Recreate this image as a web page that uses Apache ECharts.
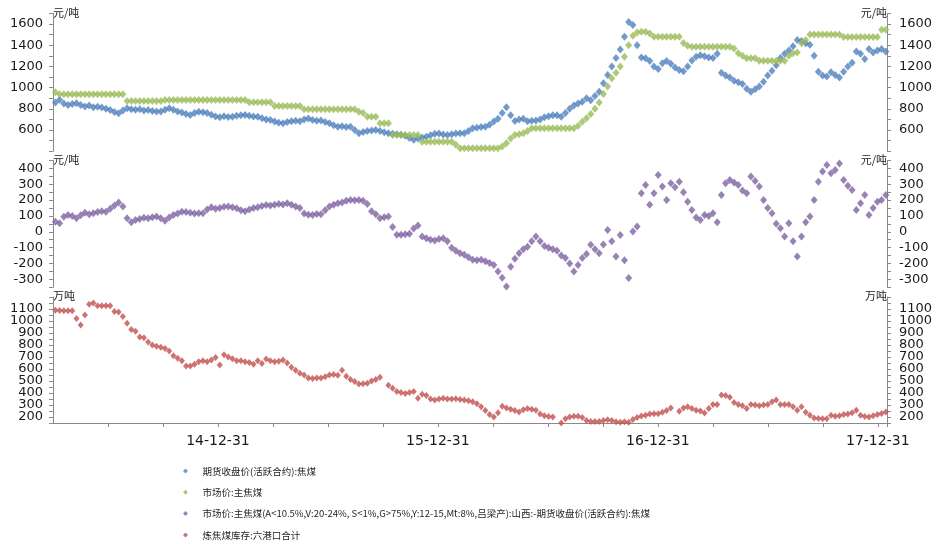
<!DOCTYPE html>
<html><head><meta charset="utf-8">
<script src="https://cdn.jsdelivr.net/npm/echarts@6/dist/echarts.min.js"></script>
<style>html,body{margin:0;padding:0;background:#fff}#c{width:936px;height:544px}</style>
</head><body><div id="c"></div>
<script>
const seriesNames = [
  '期货收盘价(活跃合约):焦煤',
  '市场价:主焦煤',
  '市场价:主焦煤(A<10.5%,V:20-24%, S<1%,G>75%,Y:12-15,Mt:8%,吕梁产):山西:-期货收盘价(活跃合约):焦煤',
  '炼焦煤库存:六港口合计'
];
const seriesColors = ['#4f81bd', '#9bbb59', '#8064a2', '#c0504d'];
const unitPrice = '元/吨';
const unitStock = '万吨';
const yearEndLabels = ['14-12-31', '15-12-31', '16-12-31', '17-12-31'];
const axisOrigin = '2014-03-31';
const axisEnd = '2018-01-14';
const firstWeek = '2014-04-04';

// weekly readings
const futures = [
  860,885,850,835,845,852,835,822,830,815,
  820,812,800,789,770,758,785,805,795,790,
  795,785,789,780,775,775,790,805,790,775,
  765,750,742,760,773,768,760,745,728,720,
  730,722,726,735,738,742,735,728,726,712,
  700,694,680,668,663,675,682,688,682,700,
  708,695,688,690,675,663,645,631,635,628,
  630,600,570,580,590,595,600,590,578,569,
  565,560,555,545,525,508,520,530,537,550,
  565,566,558,553,560,566,569,570,590,616,
  622,628,631,650,680,705,760,815,740,685,
  700,705,682,688,690,700,720,730,740,738,
  726,760,800,830,850,867,900,880,920,960,
  1040,1120,1200,1280,1360,1480,1620,1590,1400,1285,
  1276,1250,1200,1175,1229,1250,1225,1190,1166,1155,
  1200,1255,1290,1305,1295,1285,1280,1320,1140,1115,
  1095,1065,1050,1035,990,960,985,1010,1055,1115,
  1160,1210,1280,1320,1350,1390,1450,1440,1418,1405,
  1300,1150,1115,1105,1145,1120,1095,1150,1200,1235,
  1340,1320,1270,1365,1330,1350,1365,1340
];
const market = [
  955,937,937,937,937,937,937,937,937,937,
  937,937,937,937,937,937,937,874,874,874,
  874,874,874,874,874,874,883,883,883,883,
  883,883,883,883,883,883,883,883,883,883,
  883,883,883,883,883,883,861,861,861,861,
  861,861,826,826,826,826,826,826,826,795,
  795,795,795,795,795,795,795,795,795,795,
  795,795,773,760,726,726,726,663,663,663,
  553,553,553,553,553,553,553,490,490,490,
  490,490,490,490,490,460,427,427,427,427,
  427,427,427,427,427,427,445,474,520,553,
  560,569,590,616,616,616,616,616,616,616,
  616,616,616,616,640,679,710,750,800,860,
  940,1010,1088,1140,1200,1290,1400,1490,1520,1528,
  1528,1510,1480,1480,1480,1480,1480,1480,1480,1420,
  1395,1386,1386,1386,1386,1386,1386,1386,1386,1386,
  1386,1370,1323,1300,1276,1276,1276,1254,1254,1254,
  1254,1254,1254,1254,1300,1323,1330,1418,1450,1500,
  1500,1500,1500,1500,1500,1500,1500,1478,1478,1478,
  1478,1478,1478,1478,1478,1478,1545,1545
];
const spread = [
  64,54,95,106,100,85,105,120,110,117,
  125,130,127,145,165,185,159,85,60,75,
  80,88,85,92,96,85,70,90,106,115,
  127,125,120,115,117,117,140,155,145,150,
  158,160,155,148,135,130,140,150,155,162,
  169,165,170,175,172,180,170,160,150,115,
  108,106,112,110,135,159,170,180,185,195,
  201,198,201,195,175,130,110,85,92,96,
  30,-19,-19,-15,-12,20,40,-30,-40,-51,
  -55,-45,-40,-60,-100,-120,-135,-145,-160,-177,
  -180,-177,-185,-197,-210,-250,-290,-345,-220,-170,
  -135,-110,-95,-60,-30,-60,-90,-100,-110,-120,
  -150,-166,-200,-250,-210,-166,-140,-82,-110,-135,
  -80,12,-60,-156,-20,-180,-292,1,33,243,
  295,170,243,358,285,200,306,280,316,250,
  190,138,90,75,106,100,117,60,232,306,
  327,310,295,260,243,348,320,285,200,150,
  117,50,23,-30,54,-60,-156,-30,60,96,
  201,316,380,421,369,390,431,327,290,264,
  138,180,232,106,150,190,200,232
];
const stock = [
  1090,1088,1085,1085,1085,1020,966,1051,1140,1151,
  1128,1128,1128,1128,1080,1075,1037,981,930,915,
  867,860,824,800,790,781,770,750,711,690,
  668,626,626,640,660,668,660,675,696,634,
  719,700,685,668,668,660,655,640,668,645,
  683,668,660,665,675,650,615,589,565,549,
  526,521,526,526,535,549,555,547,589,540,
  512,495,475,478,481,500,512,532,null,464,
  440,413,405,396,405,413,356,390,380,350,
  342,350,356,350,350,352,345,342,335,327,
  310,285,255,220,200,236,290,275,265,255,
  242,260,270,265,257,225,210,205,200,114,
  150,185,200,206,206,195,170,163,163,163,
  170,177,170,160,157,160,157,180,195,208,
  215,225,228,228,240,255,276,null,248,275,
  285,270,257,250,234,270,304,304,384,380,
  365,320,305,293,270,304,300,293,300,304,
  327,342,304,304,304,285,257,285,240,215,
  191,188,186,186,214,206,210,220,225,236,
  257,214,205,200,210,220,230,242
];

const DAY = 86400000;
const originMs = Date.parse(axisOrigin);
const weekDates = [];
for (let k = 0; k < futures.length; k++) {
  const d = new Date(Date.parse(firstWeek) + k * 7 * DAY);
  weekDates.push(d.toISOString().slice(0, 10));
}
const dayOf = s => (Date.parse(s) - originMs) / DAY;
const xMax = dayOf(axisEnd);
const quarter = 365.25 / 4;
const pairs = vals => vals.map((v, i) => [dayOf(weekDates[i]), v]);

const FONT = 'DejaVu Sans';
const axisGray = '#8a8a8a';
function yAxis(grid, pos, min, max, step, lo, hi, lstep, name) {
  return {
    type: 'value', gridIndex: grid, position: pos, min: min, max: max, interval: step,
    name: name, nameLocation: 'end', nameGap: 1,
    nameTextStyle: { fontFamily: 'Noto Sans CJK SC', fontSize: 11, color: '#222',
      align: pos === 'left' ? 'left' : 'right', verticalAlign: 'middle' },
    axisLine: { show: true, lineStyle: { color: axisGray, width: 1 } },
    axisTick: { show: true, length: 4, lineStyle: { color: axisGray } },
    splitLine: { show: false },
    axisLabel: {
      margin: pos === 'left' ? 10 : 12, fontFamily: FONT, fontSize: 13, color: '#1a1a1a',
      formatter: v => { const r = Math.round(v); return (r >= lo && r <= hi && r % lstep === 0) ? String(r) : ''; }
    }
  };
}
function hiddenX(grid) {
  return { type: 'value', gridIndex: grid, min: 0, max: xMax, show: false };
}

const grids = [
  { left: 53, right: 49, top: 13.4, height: 137.8 },
  { left: 53, right: 49, top: 160.4, height: 126.9 },
  { left: 53, right: 49, top: 297, height: 126 }
];

const chart = echarts.init(document.getElementById('c'), null, { renderer: 'canvas' });
const sym = 'diamond';
chart.setOption({
  animation: false,
  backgroundColor: '#fff',
  grid: grids,
  xAxis: [
    hiddenX(0), hiddenX(1),
    {
      type: 'value', gridIndex: 2, min: 0, max: xMax, interval: quarter,
      axisLine: { show: true, lineStyle: { color: axisGray } },
      axisTick: { show: true, length: 4, lineStyle: { color: axisGray } },
      splitLine: { show: false },
      axisLabel: {
        margin: 11, fontFamily: FONT, fontSize: 14, color: '#1a1a1a', showMinLabel: false,
        formatter: v => {
          const q = Math.round(v / quarter);
          if (Math.abs(v - q * quarter) > 0.5 || q % 4 !== 3) return '';
          return yearEndLabels[(q - 3) / 4] || '';
        }
      }
    }
  ],
  yAxis: [
    yAxis(0, 'left', 400, 1700, 100, 600, 1600, 200, unitPrice),
    yAxis(0, 'right', 400, 1700, 100, 600, 1600, 200, unitPrice),
    yAxis(1, 'left', -350, 450, 50, -300, 400, 100, unitPrice),
    yAxis(1, 'right', -350, 450, 50, -300, 400, 100, unitPrice),
    yAxis(2, 'left', 150, 1200, 50, 200, 1100, 100, unitStock),
    yAxis(2, 'right', 150, 1200, 50, 200, 1100, 100, unitStock)
  ],
  legend: {
    orient: 'vertical', left: 178, top: 460, height: 120, padding: 5,
    itemWidth: 24, itemHeight: 5, itemGap: 9.3,
    icon: 'path://M0,-1L1,0L0,1L-1,0Z',
    textStyle: { fontFamily: 'Noto Sans CJK SC', fontSize: 9.5, lineHeight: 12, color: '#1f1f1f' },
    data: seriesNames
  },
  series: [
    { name: seriesNames[0], type: 'scatter', xAxisIndex: 0, yAxisIndex: 0, symbol: sym, symbolSize: [7, 8],
      itemStyle: { color: seriesColors[0] }, data: pairs(futures) },
    { name: seriesNames[1], type: 'scatter', xAxisIndex: 0, yAxisIndex: 0, symbol: sym, symbolSize: [7, 8],
      itemStyle: { color: seriesColors[1] }, data: pairs(market) },
    { name: seriesNames[2], type: 'scatter', xAxisIndex: 1, yAxisIndex: 2, symbol: sym, symbolSize: [7, 8],
      itemStyle: { color: seriesColors[2] }, data: pairs(spread) },
    { name: seriesNames[3], type: 'scatter', xAxisIndex: 2, yAxisIndex: 4, symbol: sym, symbolSize: [6, 7],
      itemStyle: { color: seriesColors[3] }, data: pairs(stock).filter(p => p[1] !== null) }
  ]
});
</script></body></html>
